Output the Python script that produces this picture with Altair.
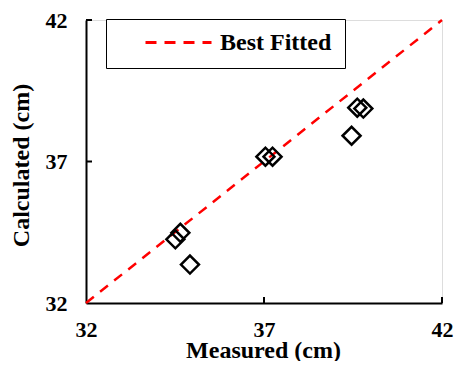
import altair as alt
import pandas as pd

measured = [34.51, 34.65, 34.92, 37.04, 37.24, 39.46, 39.62, 39.79]
calculated = [34.25, 34.48, 33.36, 37.17, 37.17, 37.91, 38.90, 38.87]
fit_x = [32, 42]
fit_y = [32, 42]
tick_vals = [32, 37, 42]
series_name = ["Best Fitted\u00a0\u00a0\u00a0", "Best Fitted\u00a0\u00a0\u00a0"]

FONT = "Liberation Serif"
W, H = 356, 283

pts = pd.DataFrame({"Measured": measured, "Calculated": calculated})
fit = pd.DataFrame({"Measured": fit_x, "Calculated": fit_y, "series": series_name})
ticks = pd.DataFrame({"v": tick_vals[1:]})

xscale = alt.Scale(domain=[32, 42], nice=False, zero=False)
yscale = alt.Scale(domain=[32, 42], nice=False, zero=False)

xaxis = alt.Axis(values=tick_vals, grid=False, ticks=False, tickSize=0, domainColor="black",
                 domainWidth=2, labelFont=FONT, labelFontSize=22, labelFontWeight="bold",
                 labelColor="black", labelPadding=16, title="Measured (cm)", titleFont=FONT,
                 titleFontSize=24, titleFontWeight="bold", titleColor="black",
                 titleX=177, titleY=54, titleBaseline="alphabetic", labelFlush=False)
yaxis = alt.Axis(values=tick_vals, grid=False, ticks=False, tickSize=0, domainColor="black",
                 domainWidth=2, labelFont=FONT, labelFontSize=22, labelFontWeight="bold",
                 labelColor="black", labelPadding=19, title="Calculated (cm)", titleFont=FONT,
                 titleFontSize=24, titleFontWeight="bold", titleColor="black",
                 titleX=-58, titleY=145, titleBaseline="alphabetic", titleAngle=-90,
                 labelFlush=False)

line = alt.Chart(fit).mark_line(strokeWidth=2.5, strokeDash=[10, 8]).encode(
    x=alt.X("Measured:Q", scale=xscale, axis=xaxis),
    y=alt.Y("Calculated:Q", scale=yscale, axis=yaxis),
    color=alt.Color("series:N", scale=alt.Scale(range=["#ff0000"]),
                    legend=alt.Legend(title=None, orient="none", legendX=20, legendY=-1,
                                      strokeColor="black", fillColor="white", padding=13,
                                      symbolType="stroke", symbolSize=4356, symbolStrokeWidth=3,
                                      symbolDash=[11, 8], symbolOffset=25, clipHeight=21,
                                      labelOffset=7, labelFont=FONT, labelFontSize=24,
                                      labelFontWeight="bold", labelColor="black")),
)

points = alt.Chart(pts).mark_point(shape="diamond", filled=False, size=324, stroke="black",
                                   strokeWidth=2.5, opacity=1).encode(
    x=alt.X("Measured:Q", scale=xscale),
    y=alt.Y("Calculated:Q", scale=yscale),
)

xticks = alt.Chart(ticks).mark_rule(color="black", strokeWidth=2).encode(
    x=alt.X("v:Q", scale=xscale), y=alt.value(H), y2=alt.value(H - 6))
yticks = alt.Chart(ticks).mark_rule(color="black", strokeWidth=2).encode(
    y=alt.Y("v:Q", scale=yscale), x=alt.value(0), x2=alt.value(6))

chart = alt.layer(line, points, xticks, yticks).properties(
    width=W, height=H,
    autosize=alt.AutoSizeParams(type="none"),
    padding={"left": 78, "top": 12, "right": 13, "bottom": 58},
).configure_view(stroke=None).configure(background="white")

chart.save("out.html", embed_options={"renderer": "svg", "actions": False})
